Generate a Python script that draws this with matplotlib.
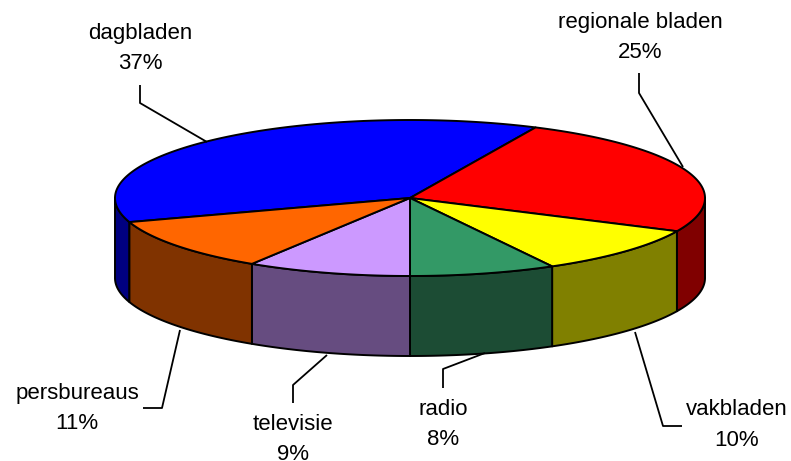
import numpy as np
import matplotlib
matplotlib.use("Agg")
import matplotlib.pyplot as plt
from matplotlib.patches import Polygon

# ---- data ----
categories = ["dagbladen", "regionale bladen", "vakbladen", "radio", "televisie", "persbureaus"]
values = [37, 25, 10, 8, 9, 11]

# ---- styles ----
top_colors = ["#0000FF", "#FF0000", "#FFFF00", "#339966", "#CC99FF", "#FF6600"]
side_colors = ["#000080", "#800000", "#808000", "#1C4C34", "#664C80", "#803300"]

# label layout: (x, baseline name, baseline pct) and leader polyline (pixel layout)
label_pos = [(140, 39, 69), (640, 28, 58), (737, 415, 446), (443, 415, 445), (293, 430, 460), (77, 399, 429)]
leaders = [
    [(140, 85), (140, 103), (207, 142)],
    [(639, 73), (639, 93), (683, 167)],
    [(682, 426), (663, 426), (635, 332)],
    [(443, 388), (443, 369), (485, 353)],
    [(293, 403), (293, 385), (327, 355)],
    [(143, 408), (162, 408), (180, 330)],
]

W, H = 791, 461
fig = plt.figure(figsize=(W / 100, H / 100), dpi=100)
ax = fig.add_axes([0, 0, 1, 1])
ax.set_xlim(0, W)
ax.set_ylim(H, 0)
ax.axis("off")

cx, cy, rx, ry, depth = 410, 198, 295, 78, 80
start = 198.0
lw = 1.4
total = float(sum(values))


def pt(t, dy=0.0):
    r = np.radians(t)
    return cx + rx * np.cos(r), cy - ry * np.sin(r) + dy


spans = []
a0 = start
for v in values:
    a1 = a0 - v / total * 360.0
    spans.append((a1, a0))
    a0 = a1

# sides (front half: 180..360 deg)
for (a1, a0), col in zip(spans, side_colors):
    for k in (-360, 0, 360):
        lo, hi = max(a1 + k, 180), min(a0 + k, 360)
        if hi > lo:
            ts = np.linspace(lo, hi, 80)
            top = [pt(t) for t in ts]
            bot = [pt(t, depth) for t in ts[::-1]]
            ax.add_patch(Polygon(top + bot, closed=True, facecolor=col,
                                 edgecolor="black", lw=lw, joinstyle="round"))

# top faces
for (a1, a0), col in zip(spans, top_colors):
    ts = np.linspace(a1, a0, 200)
    verts = [(cx, cy)] + [pt(t) for t in ts]
    ax.add_patch(Polygon(verts, closed=True, facecolor=col,
                         edgecolor="black", lw=lw, joinstyle="round"))

# labels & leaders
font = "Liberation Sans"
for cat, v, (lx, b1, b2), ld in zip(categories, values, label_pos, leaders):
    xs, ys = zip(*ld)
    ax.plot(xs, ys, color="black", lw=1.3, solid_capstyle="butt")
    ax.text(lx, b1, cat, ha="center", va="baseline", fontsize=16, family=font)
    ax.text(lx, b2, f"{v}%", ha="center", va="baseline", fontsize=16, family=font)

fig.savefig("out.png", dpi=100, facecolor="white")
